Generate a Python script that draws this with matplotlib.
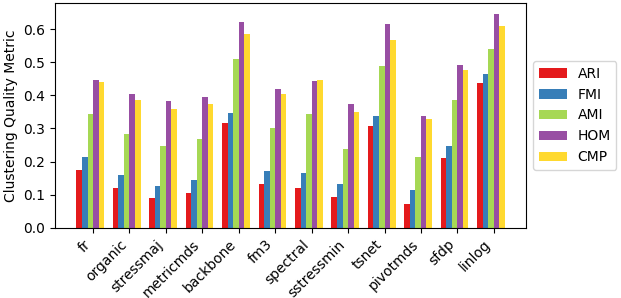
import matplotlib
matplotlib.use("Agg")
import matplotlib.pyplot as plt
import numpy as np

categories = ["fr", "organic", "stressmaj", "metricmds", "backbone", "fm3",
              "spectral", "sstressmin", "tsnet", "pivotmds", "sfdp", "linlog"]
metrics = ["ARI", "FMI", "AMI", "HOM", "CMP"]
ari = [0.174, 0.119, 0.089, 0.104, 0.315, 0.131, 0.119, 0.092, 0.306, 0.071, 0.210, 0.438]
fmi = [0.213, 0.159, 0.125, 0.143, 0.348, 0.170, 0.165, 0.131, 0.339, 0.113, 0.246, 0.466]
ami = [0.345, 0.282, 0.246, 0.267, 0.511, 0.300, 0.345, 0.237, 0.490, 0.213, 0.387, 0.541]
hom = [0.447, 0.405, 0.384, 0.396, 0.622, 0.420, 0.444, 0.375, 0.616, 0.339, 0.493, 0.646]
cmp_ = [0.441, 0.387, 0.360, 0.375, 0.586, 0.405, 0.447, 0.351, 0.568, 0.330, 0.478, 0.610]
series = [ari, fmi, ami, hom, cmp_]
colors = ["#e41a1c", "#377eb8", "#a6d854", "#984ea3", "#ffd92f"]

fig = plt.figure(figsize=(6.21, 2.98), dpi=100)
ax = fig.add_axes([0.0886, 0.236, 0.7589, 0.753])
x = np.arange(len(categories))
w = 0.152
for i, (name, vals, c) in enumerate(zip(metrics, series, colors)):
    ax.bar(x + (i - 2) * w - w / 2, vals, width=w, color=c, label=name)
ax.set_xticks(x)
ax.set_xticklabels(categories, rotation=45, ha="right")
ax.set_ylabel("Clustering Quality Metric")
ax.legend(loc="center left", bbox_to_anchor=(1.0, 0.5))
fig.savefig("out.png", dpi=100)
